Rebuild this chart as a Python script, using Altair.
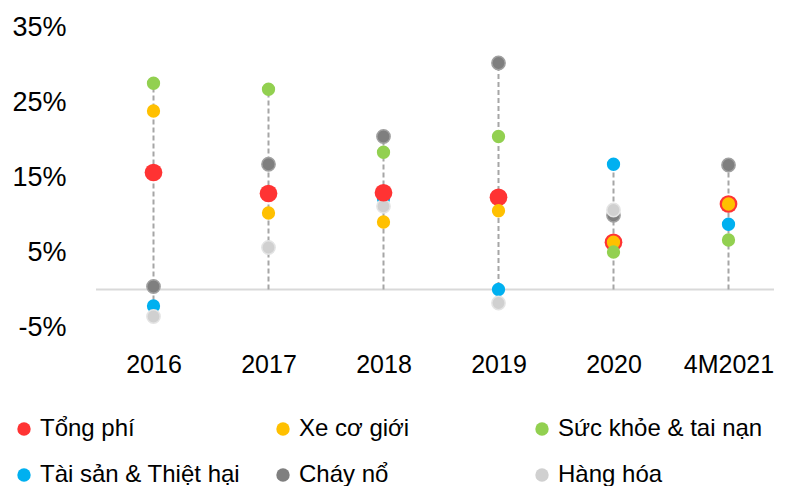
import altair as alt
import pandas as pd

years = ["2016", "2017", "2018", "2019", "2020", "4M2021"]
tong_phi = [15.6, 12.8, 12.9, 12.3, 6.3, 11.4]
xe_co_gioi = [23.8, 10.2, 9.0, 10.5, 6.3, 11.4]
suc_khoe = [27.5, 26.7, 18.3, 20.4, 5.0, 6.6]
tai_san = [-2.2, 5.6, 12.1, 0.0, 16.7, 8.7]
chay_no = [0.4, 16.7, 20.4, 30.2, 9.9, 16.6]
hang_hoa = [-3.6, 5.6, 11.1, -1.8, 10.6, 11.4]

legend_order = ["Tổng phí", "Xe cơ giới", "Sức khỏe & tai nạn",
                "Tài sản & Thiệt hại", "Cháy nổ", "Hàng hóa"]
colors = ["#FF3333", "#FFC000", "#92D050", "#00B0F0", "#7F7F7F", "#D0D0D0"]

series = {
    "Tổng phí": tong_phi,
    "Xe cơ giới": xe_co_gioi,
    "Sức khỏe & tai nạn": suc_khoe,
    "Tài sản & Thiệt hại": tai_san,
    "Cháy nổ": chay_no,
    "Hàng hóa": hang_hoa,
}
draw_order = ["Tài sản & Thiệt hại", "Cháy nổ", "Hàng hóa",
              "Tổng phí", "Xe cơ giới", "Sức khỏe & tai nạn"]

rows = []
for s in draw_order:
    for i, (y, v) in enumerate(zip(years, series[s])):
        rows.append({"i": i, "year": y, "s": s, "v": v})
df = pd.DataFrame(rows)

rng = []
for i, y in enumerate(years):
    vals = [series[s][i] for s in legend_order]
    rng.append({"i": i, "year": y, "lo": min(0, min(vals)), "hi": max(vals)})
rdf = pd.DataFrame(rng)

FONT = "Liberation Sans"
W, H = 678, 300

x_scale = alt.Scale(domain=[-0.5, len(years) - 0.5], range=[0, 690], nice=False, zero=False)
y_scale = alt.Scale(domain=[-5, 35], nice=False, zero=False)
year_lookup = "[" + ",".join("'%s'" % y for y in years) + "][datum.value]"

x_enc = alt.X("i:Q", scale=x_scale,
              axis=alt.Axis(title=None, domain=False, ticks=False, tickSize=0, grid=False,
                            values=list(range(len(years))), labelExpr=year_lookup,
                            labelFontSize=25, labelFont=FONT, labelColor="#000000",
                            labelPadding=25, labelAngle=0, labelFlush=False,
                            labelOverlap=False))

rules = alt.Chart(rdf).mark_rule(color="#A6A6A6", strokeWidth=2, strokeDash=[5, 3]).encode(
    x=x_enc,
    y=alt.Y("lo:Q", scale=y_scale,
            axis=alt.Axis(title=None, domain=False, ticks=False, tickSize=0, grid=False,
                          values=[-5, 5, 15, 25, 35], labelExpr="datum.value + '%'",
                          labelFontSize=27, labelFont=FONT, labelColor="#000000",
                          labelPadding=30)),
    y2="hi:Q",
)

zero = alt.Chart(pd.DataFrame({"z": [0]})).mark_rule(color="#D9D9D9", strokeWidth=2).encode(
    y=alt.Y("z:Q", scale=y_scale),
    x=alt.value(0),
    x2=alt.value(700),
)

points = alt.Chart(df).mark_circle(opacity=1, strokeWidth=1.5).encode(
    x=alt.X("i:Q", scale=x_scale),
    y=alt.Y("v:Q", scale=y_scale),
    color=alt.Color("s:N", scale=alt.Scale(domain=legend_order, range=colors),
                    legend=alt.Legend(orient="none", legendX=-84, legendY=390,
                                      direction="horizontal",
                                      columns=3, title=None, labelFontSize=24,
                                      labelFont=FONT, labelColor="#000000",
                                      symbolSize=180, symbolType="circle",
                                      symbolStrokeWidth=0, rowPadding=22,
                                      columnPadding=26, gridAlign="all",
                                      labelOffset=4, labelLimit=400, padding=0)),
    size=alt.when(alt.datum.s == "Tổng phí").then(alt.value(314)).otherwise(alt.value(177)),
    stroke=alt.when(alt.datum.s == "Cháy nổ").then(alt.value("#A0A0A0"))
              .when(alt.datum.s == "Hàng hóa").then(alt.value("#E4E4E4"))
              .otherwise(alt.value("transparent")),
)

chart = alt.layer(zero, rules, points).properties(
    width=W, height=H,
    autosize=alt.AutoSizeParams(type="none"),
    padding={"left": 88, "top": 19, "right": 0, "bottom": 159},
).configure_view(stroke=None)

chart.save("out.html", embed_options={"renderer": "svg", "actions": False})
